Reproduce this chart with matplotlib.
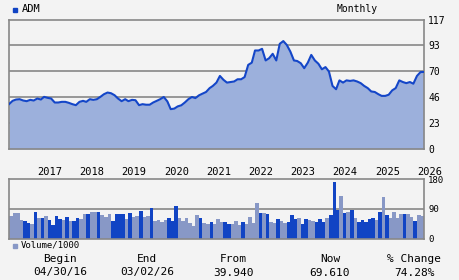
import numpy as np
import pandas as pd
import matplotlib
matplotlib.use("Agg")
import matplotlib.pyplot as plt
from matplotlib.patches import Rectangle

# monthly closes, Apr 2016 .. Feb 2026
prices = [40.5, 43.5, 44.7, 45.0, 43.8, 43.2, 44.4, 43.8, 45.6, 44.7,
          47.1, 46.2, 45.6, 42.0, 42.0, 42.6, 42.6, 41.7, 40.5, 39.6,
          42.6, 43.5, 42.6, 45.0, 44.4, 45.0, 47.1, 49.5, 51.0, 50.4,
          48.6, 45.6, 43.2, 45.0, 43.2, 44.4, 44.1, 39.6, 40.5, 40.0,
          40.0, 42.0, 43.5, 45.0, 47.0, 43.0, 36.0, 36.5, 38.5, 39.5,
          42.0, 45.0, 47.0, 46.0, 48.5, 50.0, 51.5, 55.0, 57.0, 60.0,
          66.0, 62.5, 60.0, 60.5, 61.0, 63.0, 63.0, 65.0, 76.0, 78.0,
          89.0, 89.0, 90.5, 80.0, 82.0, 86.0, 80.0, 95.0, 97.5, 94.0,
          88.0, 80.0, 79.5, 77.5, 73.0, 78.0, 85.0, 80.0, 77.0, 72.0,
          74.0, 70.0, 57.0, 54.0, 62.0, 60.0, 62.0, 61.5, 62.0, 61.0,
          59.5, 57.0, 55.0, 52.0, 51.5, 49.5, 48.0, 48.0, 49.0, 53.0,
          55.0, 62.0, 60.5, 59.5, 60.5, 59.0, 66.0, 69.5, 69.6]

# monthly volume (thousands)
volume = [69, 78, 78, 56, 54, 47, 44, 80, 62, 62,
          68, 56, 41, 68, 60, 56, 65, 54, 54, 62,
          60, 74, 74, 80, 80, 80, 72, 66, 74, 54,
          74, 74, 74, 60, 77, 65, 68, 83, 65, 68,
          92, 54, 56, 50, 56, 62, 54, 98, 62, 54,
          62, 47, 38, 71, 62, 47, 44, 50, 44, 59,
          50, 50, 44, 44, 53, 41, 50, 44, 65, 47,
          107, 77, 77, 74, 50, 47, 59, 53, 47, 50,
          71, 59, 62, 44, 59, 56, 53, 50, 59, 50,
          62, 71, 171, 86, 129, 77, 80, 86, 62, 50,
          56, 50, 59, 62, 56, 80, 126, 71, 62, 80,
          62, 74, 74, 74, 65, 53, 71, 68]
# 1 = dark bar, 0 = light bar
vol_up = [0, 0, 0, 0, 1, 1, 0, 1, 0, 1,
          0, 1, 1, 1, 1, 0, 1, 0, 1, 1,
          0, 0, 1, 0, 0, 1, 0, 0, 0, 1,
          1, 1, 1, 0, 1, 0, 0, 1, 0, 0,
          1, 0, 0, 0, 0, 1, 1, 1, 0, 0,
          0, 0, 0, 0, 1, 0, 0, 1, 0, 0,
          0, 1, 1, 0, 0, 0, 1, 0, 0, 0,
          0, 1, 0, 1, 0, 0, 1, 0, 0, 1,
          1, 1, 0, 1, 1, 0, 0, 1, 1, 1,
          0, 1, 1, 1, 0, 1, 0, 1, 0, 1,
          1, 1, 1, 1, 0, 1, 0, 1, 0, 0,
          0, 0, 1, 0, 0, 1, 0, 0]

years = list(range(2017, 2027))
price_ticks = np.linspace(0, 117, 6)
vol_ticks = [0, 90, 180]

dates = pd.date_range("2016-04-30", periods=len(prices), freq="ME")
end_date = pd.Timestamp("2026-03-02")

bg = "#f3f3f3"
line_c = "#1446c8"
fill_c = "#9cb0dc"
dark_c = "#1144c4"
light_c = "#8898c6"
grid_c = "#888888"
mono = "DejaVu Sans Mono"

fig = plt.figure(figsize=(4.6, 2.8), dpi=100, facecolor=bg)
ax = fig.add_axes([9/460, 1-149/280, 415/460, 129.5/280])
axv = fig.add_axes([9/460, 1-238.7/280, 415/460, 59.5/280])

for a in (ax, axv):
    a.set_facecolor(bg)
    for s in a.spines.values():
        s.set_color(grid_c)
        s.set_linewidth(1.2)
    a.set_xlim(dates[0], end_date)
    a.yaxis.tick_right()
    a.tick_params(axis="y", length=0, pad=3, labelsize=7, labelcolor="black")

# price panel
for v in price_ticks[1:-1]:
    ax.axhline(v, color=grid_c, lw=1.2, zorder=1)
ax.fill_between(dates, prices, 0, color=fill_c, lw=0, zorder=2)
ax.plot(dates, prices, color=line_c, lw=1.5, zorder=3)
ax.set_ylim(0, 117)
ax.set_yticks(price_ticks)
ax.set_yticklabels([str(int(v)) for v in price_ticks], family=mono)
ax.set_xticks([pd.Timestamp(f"{y}-01-01") for y in years])
ax.set_xticklabels([str(y) for y in years], family=mono, fontsize=7.5, ha="left")
ax.tick_params(axis="x", length=0, pad=13)
for lbl in ax.get_yticklabels():
    lbl.set_horizontalalignment("left")

# volume panel
axv.axhline(90, color=grid_c, lw=1.2, zorder=1)
edges = list(dates)
widths = [(edges[k+1] - edges[k]).days for k in range(len(volume))]
cols = [dark_c if u else light_c for u in vol_up]
axv.bar(dates[:len(volume)], volume, width=widths, align="edge",
        color=cols, lw=0, zorder=2)
axv.set_ylim(0, 180)
axv.set_yticks(vol_ticks)
axv.set_yticklabels([str(v) for v in vol_ticks], family=mono, fontsize=6.5)
axv.set_xticks([])

# legends and header
fig.patches.append(Rectangle((13/460, 1-11.5/280), 4/460, 4/280,
                             transform=fig.transFigure, color=dark_c))
fig.text(22/460, 1-9.5/280, "ADM", family=mono, fontsize=7.5, va="center")
fig.text(357/460, 1-9.5/280, "Monthly", family=mono, fontsize=7, va="center", ha="center")
fig.patches.append(Rectangle((13/460, 1-247.5/280), 4/460, 4/280,
                             transform=fig.transFigure, color=light_c))
fig.text(21/460, 1-245.5/280, "Volume/1000", family=mono, fontsize=6.5, va="center")

# bottom stats
stats = [("Begin", "04/30/16", 60), ("End", "03/02/26", 147),
         ("From", "39.940", 233), ("Now", "69.610", 330),
         ("% Change", "74.28%", 414)]
for head, val, xc in stats:
    fig.text(xc/460, 1-259/280, head, family=mono, fontsize=8, ha="center", va="center")
    fig.text(xc/460, 1-272.5/280, val, family=mono, fontsize=8, ha="center", va="center")

fig.savefig("out.png", dpi=100, facecolor=bg)
